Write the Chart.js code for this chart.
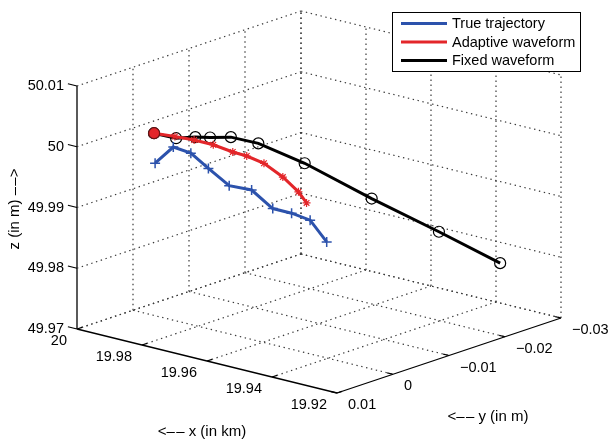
<!DOCTYPE html>
<html>
<head>
<meta charset="utf-8">
<script src="https://cdn.jsdelivr.net/npm/chart.js@4"></script>
<style>
  body { margin: 0; background: #fff; }
  canvas { display: block; }
</style>
</head>
<body>
<canvas id="trajChart" width="608" height="441"></canvas>
<script>
// axis ticks
const xTicks = [20, 19.98, 19.96, 19.94, 19.92];
const yTicks = [0.01, 0, -0.01, -0.02, -0.03];
const zTicks = [49.97, 49.98, 49.99, 50, 50.01];
const xTickLabels = ['20', '19.98', '19.96', '19.94', '19.92'];
const yTickLabels = ['0.01', '0', '\u22120.01', '\u22120.02', '\u22120.03'];
const zTickLabels = ['49.97', '49.98', '49.99', '50', '50.01'];

// true trajectory
const trueX = [19.9932, 19.9876, 19.9822, 19.9768, 19.9704, 19.9635, 19.9570, 19.9512, 19.9455, 19.9404];
const trueY = [0, 0, 0, 0, 0, 0, 0, 0, 0, 0];
const trueZ = [49.9951, 49.9985, 49.9982, 49.9964, 49.9944, 49.9946, 49.9924, 49.9924, 49.9920, 49.9891];

// adaptive waveform estimate
const adaptX = [19.9935, 19.9871, 19.9812, 19.9753, 19.9693, 19.9650, 19.9597, 19.9539, 19.9491, 19.9466];
const adaptY = [0, 0, 0, 0, 0, 0, 0, 0, 0, 0];
const adaptZ = [50.0000, 50.0003, 50.0005, 50.0005, 50.0001, 50.0000, 49.9995, 49.9980, 49.9962, 49.9947];

// fixed waveform estimate
const fixedX = [19.9932, 19.9876, 19.9822, 19.9768, 19.9704, 19.9635, 19.9570, 19.9512, 19.9455, 19.9370];
const fixedY = [0.0002, -0.0005, -0.0008, -0.0003, -0.0003, -0.0012, -0.0057, -0.0143, -0.0230, -0.0290];
const fixedZ = [50.0001, 49.9998, 50.0006, 50.0014, 50.0023, 50.0019, 49.9981, 49.9904, 49.9830, 49.9771];

// simple fixed-view projection of the 3D box onto the page
const ORIGIN = { x: 77, y: 329 };
const X_VEC = { x: 260, y: 64 };
const Y_VEC = { x: 224, y: -75 };
const Z_VEC = { x: 0, y: -243 };

function project(x, y, z) {
  const u = (x - xTicks[0]) / (xTicks[4] - xTicks[0]);
  const v = (y - yTicks[0]) / (yTicks[4] - yTicks[0]);
  const w = (z - zTicks[0]) / (zTicks[4] - zTicks[0]);
  return {
    x: ORIGIN.x + u * X_VEC.x + v * Y_VEC.x + w * Z_VEC.x,
    y: ORIGIN.y + u * X_VEC.y + v * Y_VEC.y + w * Z_VEC.y
  };
}

function toPoints(xs, ys, zs) {
  return xs.map((x, i) => project(x, ys[i], zs[i]));
}

const xMin = xTicks[0], xMax = xTicks[4];
const yMin = yTicks[0], yMax = yTicks[4];
const zMin = zTicks[0], zMax = zTicks[4];

function seg(a, b, dotted) {
  return {
    data: [project(a[0], a[1], a[2]), project(b[0], b[1], b[2])],
    showLine: true,
    borderColor: dotted ? '#3a3a3a' : '#000',
    borderWidth: dotted ? 1.2 : 1.3,
    borderDash: dotted ? [1.4, 3.6] : [],
    pointRadius: 0,
    order: 10
  };
}

const gridSets = [];
// floor
xTicks.forEach(x => { if (x !== xMax) gridSets.push(seg([x, yMin, zMin], [x, yMax, zMin], true)); });
yTicks.forEach(y => { if (y !== yMin) gridSets.push(seg([xMin, y, zMin], [xMax, y, zMin], true)); });
// left wall (x = 20)
yTicks.forEach(y => { if (y !== yMin) gridSets.push(seg([xMin, y, zMin], [xMin, y, zMax], true)); });
zTicks.forEach(z => gridSets.push(seg([xMin, yMin, z], [xMin, yMax, z], true)));
// back wall (y = -0.03)
xTicks.forEach(x => gridSets.push(seg([x, yMax, zMin], [x, yMax, zMax], true)));
zTicks.forEach(z => gridSets.push(seg([xMin, yMax, z], [xMax, yMax, z], true)));
// solid axes
gridSets.push(seg([xMin, yMin, zMin], [xMax, yMin, zMin], false));
gridSets.push(seg([xMax, yMin, zMin], [xMax, yMax, zMin], false));
gridSets.push(seg([xMin, yMin, zMin], [xMin, yMin, zMax], false));

const BLUE = '#2c52ac';
const RED = '#e3262a';

const dataSets = [
  {
    label: 'Fixed waveform',
    data: toPoints(fixedX, fixedY, fixedZ),
    showLine: true,
    borderColor: '#000',
    borderWidth: 3,
    pointStyle: 'circle',
    pointRadius: 5.5,
    pointBorderWidth: 1.2,
    pointBorderColor: '#000',
    pointBackgroundColor: 'rgba(0,0,0,0)',
    order: 3
  },
  {
    label: 'Adaptive waveform',
    data: toPoints(adaptX, adaptY, adaptZ),
    showLine: true,
    borderColor: RED,
    borderWidth: 3,
    pointStyle: ctx => ctx.dataIndex === 0 ? 'circle' : 'star',
    pointRadius: ctx => ctx.dataIndex === 0 ? 5.5 : 4,
    pointBorderWidth: 1.2,
    pointBorderColor: ctx => ctx.dataIndex === 0 ? '#6a1414' : RED,
    pointBackgroundColor: RED,
    order: 2
  },
  {
    label: 'True trajectory',
    data: toPoints(trueX, trueY, trueZ),
    showLine: true,
    borderColor: BLUE,
    borderWidth: 3,
    pointStyle: 'cross',
    pointRadius: 5,
    pointBorderWidth: 1.5,
    pointBorderColor: BLUE,
    order: 1
  }
];

const FONT = '14.5px "Liberation Sans", Arial, sans-serif';
const TITLE_FONT = '15px "Liberation Sans", Arial, sans-serif';

const decorations = {
  id: 'decorations',
  beforeDraw(chart) {
    const c = chart.ctx;
    c.save();
    c.fillStyle = '#fff';
    c.fillRect(0, 0, chart.width, chart.height);
    c.restore();
  },
  afterDraw(chart) {
    const c = chart.ctx;
    const sx = chart.scales.x, sy = chart.scales.y;
    const px = p => ({ x: sx.getPixelForValue(p.x), y: sy.getPixelForValue(p.y) });
    c.save();
    c.strokeStyle = '#000';
    c.lineWidth = 1.2;
    c.fillStyle = '#000';
    c.font = FONT;

    // z ticks and labels
    c.textAlign = 'right';
    c.textBaseline = 'middle';
    zTicks.forEach((z, i) => {
      const a = px(project(xMin, yMin, z));
      const b = px(project(xMin + 0.0028, yMin, z));
      c.beginPath(); c.moveTo(a.x, a.y); c.lineTo(b.x, b.y); c.stroke();
      c.fillText(zTickLabels[i], a.x - 13, a.y);
    });

    // x ticks and labels
    xTicks.forEach((x, i) => {
      const a = px(project(x, yMin, zMin));
      const b = px(project(x, yMin - 0.0009, zMin));
      c.beginPath(); c.moveTo(a.x, a.y); c.lineTo(b.x, b.y); c.stroke();
      c.fillText(xTickLabels[i], a.x - 10, a.y + 12);
    });

    // y ticks and labels
    c.textAlign = 'left';
    yTicks.forEach((y, i) => {
      const a = px(project(xMax, y, zMin));
      const b = px(project(xMax + 0.0018, y, zMin));
      c.beginPath(); c.moveTo(a.x, a.y); c.lineTo(b.x, b.y); c.stroke();
      c.fillText(yTickLabels[i], a.x + 11, a.y + 12);
    });

    // axis titles
    c.font = TITLE_FONT;
    c.textAlign = 'center';
    c.fillText('<\u2013\u200A\u2013 x (in km)', 202, 432);
    c.fillText('<\u2013\u200A\u2013 y (in m)', 488, 417);
    c.save();
    c.translate(15, 209);
    c.rotate(-Math.PI / 2);
    c.fillText('z (in m) \u2013\u200A\u2013>', 0, 0);
    c.restore();

    // legend
    const items = [['True trajectory', BLUE], ['Adaptive waveform', RED], ['Fixed waveform', '#000']];
    c.fillStyle = '#fff';
    c.fillRect(392, 12, 188, 59);
    c.strokeStyle = '#000';
    c.lineWidth = 1;
    c.strokeRect(392.5, 12.5, 188, 59);
    c.font = '14.5px "Liberation Sans", Arial, sans-serif';
    c.textAlign = 'left';
    items.forEach((it, i) => {
      const ly = 23.5 + i * 18.5;
      c.strokeStyle = it[1];
      c.lineWidth = 3;
      c.beginPath(); c.moveTo(401, ly); c.lineTo(447, ly); c.stroke();
      c.fillStyle = '#000';
      c.fillText(it[0], 452, ly + 0.5);
    });
    c.restore();
  }
};

new Chart(document.getElementById('trajChart'), {
  type: 'scatter',
  data: { datasets: gridSets.concat(dataSets) },
  options: {
    responsive: false,
    animation: false,
    devicePixelRatio: 1,
    layout: { padding: 0, autoPadding: false },
    plugins: { legend: { display: false }, tooltip: { enabled: false } },
    scales: {
      x: { type: 'linear', min: 0, max: 608, display: false },
      y: { type: 'linear', min: 0, max: 441, reverse: true, display: false }
    }
  },
  plugins: [decorations]
});
</script>
</body>
</html>
